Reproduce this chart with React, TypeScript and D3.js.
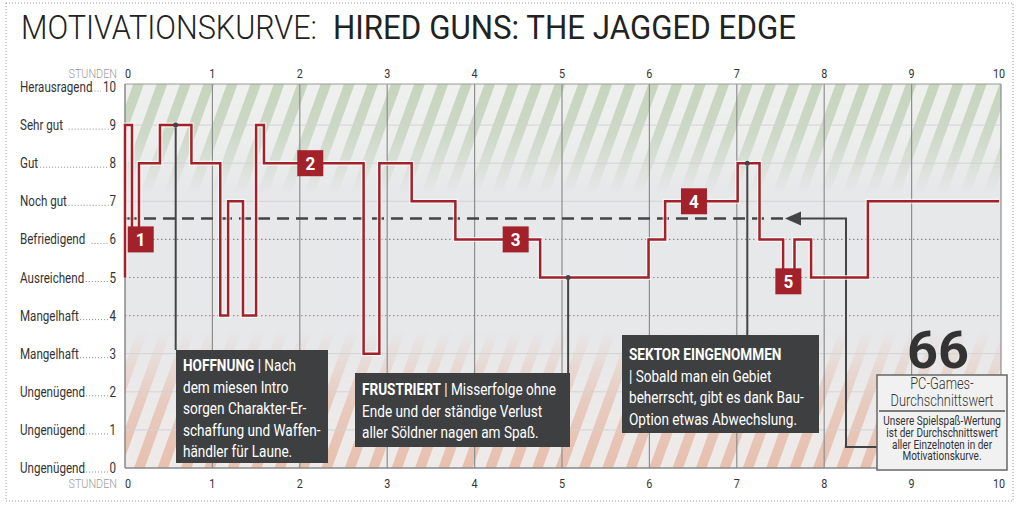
import React from "react";
import * as d3 from "d3";

// ---- data ----
const stepHours = [0, 0, 0.08, 0.16, 0.40, 0.76, 1.09, 1.18, 1.35, 1.50, 1.59, 2.73, 2.91, 3.28, 3.78, 4.75, 5.99, 6.18, 7.01, 7.26, 7.53, 7.66, 7.85, 8.50, 10];
const stepValues = [5, 9, 6, 8, 9, 8, 4, 7, 4, 9, 8, 3, 8, 7, 6, 5, 6, 7, 8, 6, 5, 6, 5, 7, 7];
const gradeLabels = ["Ungenügend", "Ungenügend", "Ungenügend", "Mangelhaft", "Mangelhaft", "Ausreichend", "Befriedigend", "Noch gut", "Gut", "Sehr gut", "Herausragend"];
const gradeValues = [0, 1, 2, 3, 4, 5, 6, 7, 8, 9, 10];
const hourTicks = [0, 1, 2, 3, 4, 5, 6, 7, 8, 9, 10];
const averageValue = 6.55;
const scoreText = "66";
const markerNumbers = ["1", "2", "3", "4", "5"];
const markerHours = [0.18, 2.12, 4.47, 6.51, 7.59];
const markerValues = [6, 8, 6, 7, 4.9];

const FONT = "Roboto, 'Noto Sans', sans-serif";
const RED = "#a3212a";
const DARK = "#3e3f41";
const SX = 0.8;

const x = d3.scaleLinear().domain([0, 10]).range([125, 999]);
const y = d3.scaleLinear().domain([0, 10]).range([468, 87]);

function CText(props: any) {
  const { x: tx, y: ty, sx = SX, children, ...rest } = props;
  return (
    <text transform={`translate(${tx},${ty}) scale(${sx},1)`} {...rest}>{children}</text>
  );
}

export default function App() {
  const pts: [number, number][] = stepHours.map((h, i) => [h, stepValues[i]]);
  const line = d3.line<[number, number]>().x(d => x(d[0])).y(d => y(d[1])).curve(d3.curveStepAfter);
  const pathD = line(pts) || "";
  const plotL = 125, plotR = 1001, plotT = 84, plotB = 468;
  const avgY = y(averageValue);

  const callouts = [
    { hx: 0.58, v: 9, box: [176, 350, 152, 113], lines: [["HOFFNUNG", " | Nach"], ["", "dem miesen Intro"], ["", "sorgen Charakter-Er-"], ["", "schaffung und Waffen-"], ["", "händler für Laune."]], ty: 371 },
    { hx: 5.07, v: 5, box: [355, 373, 215, 74], lines: [["FRUSTRIERT", " | Misserfolge ohne"], ["", "Ende und der ständige Verlust"], ["", "aller Söldner nagen am Spaß."]], ty: 395 },
    { hx: 7.12, v: 8, box: [622, 335, 197, 98], lines: [["SEKTOR EINGENOMMEN", ""], ["", "| Sobald man ein Gebiet"], ["", "beherrscht, gibt es dank Bau-"], ["", "Option etwas Abwechslung."]], ty: 360 },
  ];

  return (
    <svg width={1020} height={505} style={{ position: "absolute", left: 0, top: 0, background: "#fff" }} fontFamily={FONT}>
      <defs>
        <pattern id="gp" patternUnits="userSpaceOnUse" width={22} height={22} patternTransform="rotate(20)">
          <rect width={22} height={22} fill="#eef0ed" />
          <rect width={10} height={22} fill="#c6d4bd" />
        </pattern>
        <pattern id="rp" patternUnits="userSpaceOnUse" width={22} height={22} patternTransform="rotate(20)">
          <rect width={22} height={22} fill="#eeeae8" />
          <rect width={10} height={22} fill="#e7bfae" />
        </pattern>
        <linearGradient id="gg" x1="0" y1="0" x2="0" y2="1">
          <stop offset="0" stopColor="#fff" stopOpacity={1} />
          <stop offset="0.45" stopColor="#fff" stopOpacity={0.8} />
          <stop offset="1" stopColor="#fff" stopOpacity={0} />
        </linearGradient>
        <linearGradient id="rg" x1="0" y1="1" x2="0" y2="0">
          <stop offset="0" stopColor="#fff" stopOpacity={1} />
          <stop offset="0.5" stopColor="#fff" stopOpacity={0.7} />
          <stop offset="1" stopColor="#fff" stopOpacity={0} />
        </linearGradient>
        <mask id="gm" maskUnits="userSpaceOnUse">
          <rect x={plotL} y={plotT} width={plotR - plotL} height={y(7.2) - plotT} fill="url(#gg)" />
        </mask>
        <mask id="rm" maskUnits="userSpaceOnUse">
          <rect x={plotL} y={y(3.6)} width={plotR - plotL} height={plotB - y(3.6)} fill="url(#rg)" />
        </mask>
      </defs>

      {/* outer dotted frame */}
      <rect x={6} y={3} width={1007} height={498} fill="none" stroke="#9a9a9a" strokeDasharray="1 2" />

      {/* title */}
      <text x={21} y={39} fontSize={33} fill="#222" fontWeight={300} textLength={296} lengthAdjust="spacingAndGlyphs">MOTIVATIONSKURVE:</text>
      <text x={333} y={39} fontSize={33} fill="#222" fontWeight={400} textLength={463} lengthAdjust="spacingAndGlyphs">HIRED GUNS: THE JAGGED EDGE</text>

      {/* plot background */}
      <rect x={plotL} y={plotT} width={plotR - plotL} height={plotB - plotT} fill="#e7e8ea" />
      <rect x={plotL} y={plotT} width={plotR - plotL} height={plotB - plotT} fill="url(#gp)" mask="url(#gm)" />
      <rect x={plotL} y={plotT} width={plotR - plotL} height={plotB - plotT} fill="url(#rp)" mask="url(#rm)" />

      {/* horizontal grid */}
      {gradeValues.filter(v => v > 0 && v < 10).map(v => {
        const dotted = v === 4 || v === 5 || v === 6;
        return (
          <line key={v} x1={plotL} x2={plotR} y1={y(v)} y2={y(v)}
            stroke={v === 4 ? "#b8868a" : dotted ? "#8a8a8a" : "#d2d3d5"}
            strokeWidth={dotted ? 1.2 : 1}
            strokeDasharray={dotted ? "1.5 2.5" : undefined} />
        );
      })}
      {/* vertical grid */}
      {hourTicks.filter(h => h > 0).map(h => (
        <line key={h} x1={h === 10 ? plotR : x(h)} x2={h === 10 ? plotR : x(h)} y1={plotT} y2={plotB} stroke="#8e8e8e" strokeWidth={1.2} />
      ))}
      <line x1={plotL} x2={plotR} y1={plotT} y2={plotT} stroke="#999" strokeWidth={1.2} />
      <line x1={plotL} x2={plotR} y1={plotB} y2={plotB} stroke="#888" strokeWidth={1.5} />
      <line x1={plotL} x2={plotL} y1={plotT} y2={plotB} stroke="#888" strokeWidth={1.5} />

      {/* y labels */}
      {gradeValues.map((v, i) => {
        const w = 20 + gradeLabels[i].length * 14 * 0.52 * SX * 0.98 + 3;
        const end = v === 10 ? 101 : 109;
        return (
          <g key={v}>
            <line x1={w} x2={end} y1={y(v) + 4} y2={y(v) + 4} stroke="#888" strokeWidth={1} strokeDasharray="1 2" />
            <CText x={20} y={y(v) + 5} fontSize={14.5} fill="#333">{gradeLabels[i]}</CText>
            <CText x={116} y={y(v) + 5} fontSize={14.5} fill="#333" textAnchor="end">{v}</CText>
          </g>
        );
      })}

      {/* hour labels top & bottom */}
      {[78, 488].map(ty => (
        <g key={ty}>
          <CText x={117} y={ty} fontSize={13.5} fill="#9a9a9a" fontWeight={300} textAnchor="end">STUNDEN</CText>
          {hourTicks.map(h => (
            <CText key={h} x={h === 0 ? x(h) + 3 : x(h)} y={ty} fontSize={13.5} fill="#333" textAnchor="middle">{h}</CText>
          ))}
        </g>
      ))}

      {/* callout connectors */}
      {callouts.map((c, i) => (
        <line key={"c" + i} x1={x(c.hx)} x2={x(c.hx)} y1={y(c.v)} y2={c.box[1]} stroke="#444" strokeWidth={2} />
      ))}

      {/* average line */}
      <line x1={plotL} x2={785} y1={avgY} y2={avgY} stroke="#444" strokeWidth={2.5} strokeDasharray="12 7" />
      <path d={`M785,${avgY} L801,${avgY - 7} L801,${avgY + 7} Z`} fill="#444" />
      <path d={`M800,${avgY} L846,${avgY} L846,447 L878,447`} fill="none" stroke="#444" strokeWidth={2} />

      {/* motivation line */}
      <path d={pathD} fill="none" stroke="#fff" strokeOpacity={0.7} strokeWidth={5} />
      <path d={pathD} fill="none" stroke={RED} strokeWidth={2.5} />

      {callouts.map((c, i) => (
        <circle key={"p" + i} cx={x(c.hx)} cy={y(c.v)} r={2.5} fill="#444" />
      ))}

      {/* markers */}
      {markerNumbers.map((n, i) => (
        <g key={"m" + n}>
          <rect x={x(markerHours[i]) - 13} y={y(markerValues[i]) - 13} width={26} height={26} fill={RED} />
          <CText x={x(markerHours[i])} y={y(markerValues[i]) + 6.5} sx={0.9} fontSize={19} fontWeight={700} fill="#fff" textAnchor="middle">{n}</CText>
        </g>
      ))}

      {/* callout boxes */}
      {callouts.map((c, i) => (
        <g key={"b" + i}>
          <rect x={c.box[0]} y={c.box[1]} width={c.box[2]} height={c.box[3]} fill={DARK} />
          {c.lines.map((ln, j) => (
            <CText key={j} x={c.box[0] + 7} y={c.ty + j * 21.5} fontSize={17} fill="#fff">
              {ln[0] ? <tspan fontWeight={700}>{ln[0]}</tspan> : null}
              {ln[1]}
            </CText>
          ))}
        </g>
      ))}

      {/* score box */}
      <text x={938} y={368} fontSize={52} fontWeight={700} fill="#333" textAnchor="middle" textLength={62} lengthAdjust="spacingAndGlyphs">{scoreText}</text>
      <rect x={877} y={375} width={130} height={95} fill="#f1f1f1" stroke="#666" strokeWidth={1.5} />
      <CText x={942} y={389} fontSize={16} fontWeight={300} fill="#333" textAnchor="middle">PC-Games-</CText>
      <CText x={942} y={406} fontSize={16} fontWeight={300} fill="#333" textAnchor="middle">Durchschnittswert</CText>
      <line x1={879} x2={1005} y1={411} y2={411} stroke="#555" strokeWidth={1.5} />
      {["Unsere Spielspaß-Wertung", "ist der Durchschnittswert", "aller Einzelnoten in der", "Motivationskurve."].map((t, i) => (
        <CText key={t} x={942} y={425 + i * 11.8} fontSize={12.5} fill="#333" textAnchor="middle">{t}</CText>
      ))}
    </svg>
  );
}
